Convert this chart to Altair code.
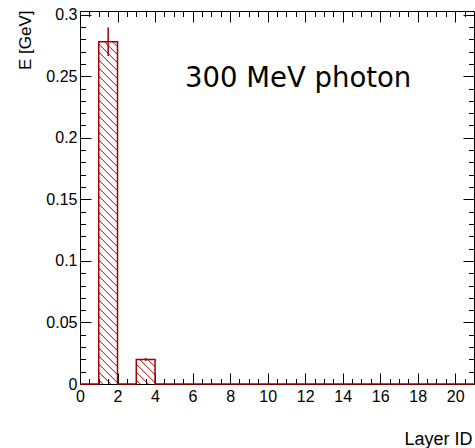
import altair as alt
import pandas as pd

# ---- data ----
bin_left = list(range(0, 21))                      # layer bins [i, i+1]
energy = [0, 0.278, 0, 0.020] + [0] * 17            # E [GeV]
energy_err = [0, 0.0115, 0, 0.0012] + [0] * 17
x_major = [0, 2, 4, 6, 8, 10, 12, 14, 16, 18, 20]
x_minor = [v / 2 for v in range(0, 42) if v % 4 != 0]
y_major = [0, 0.05, 0.1, 0.15, 0.2, 0.25, 0.3]
y_minor = [round(i * 0.01, 2) for i in range(0, 31) if i % 5 != 0]
label_text = ["300 MeV photon"]

RED = "#a00000"
W, H = 394, 373
XMAX, YMAX = 21, 0.303

xs = alt.Scale(domain=[0, XMAX], nice=False, zero=False)
ys = alt.Scale(domain=[0, YMAX], nice=False, zero=False)

df = pd.DataFrame({"x": bin_left, "e": energy, "err": energy_err})

# step outline points
step_df = pd.DataFrame({"x": bin_left + [XMAX], "e": energy + [0]})

# hatch segments derived from the bars (45 degrees on screen)
px_x, px_y = W / XMAX, H / YMAX
k = px_x / px_y
sp = 8 / px_y
rows = []
for x0, h in zip(bin_left, energy):
    if h <= 0:
        continue
    c = sp / 2
    while c < h + k:
        xa = x0 + max(0.0, (c - h) / k)
        xb = x0 + min(1.0, c / k)
        if xb > xa:
            rows.append({"x": xa, "x2": xb, "y": c - k * (xa - x0), "y2": c - k * (xb - x0)})
        c += sp
hatch_df = pd.DataFrame(rows)

err_df = df[df.e > 0].assign(xc=lambda d: d.x + 0.5, lo=lambda d: d.e - d.err, hi=lambda d: d.e + d.err)

FONT = "Liberation Sans"

def axis_layer(xaxis, yaxis):
    return alt.Chart(df).mark_point(opacity=0).encode(
        x=alt.X("x:Q", scale=xs, axis=xaxis),
        y=alt.Y("e:Q", scale=ys, axis=yaxis),
    )

common = dict(grid=False, domain=False, tickColor="black", tickWidth=1, title=None)

labels_layer = axis_layer(
    alt.Axis(orient="bottom", values=x_major, format="~g", ticks=False, domain=False, grid=False,
             labelFont=FONT, labelFontSize=16, labelColor="black", labelPadding=4, labelFlush=False,
             title="Layer ID", titleFont=FONT, titleFontSize=18, titleFontWeight="normal",
             titleColor="black", titleX=392, titleY=60, titleAlign="right",
             titleBaseline="alphabetic", titleAnchor="end"),
    alt.Axis(orient="left", values=y_major, format="~g", ticks=False, domain=False, grid=False,
             labelFont=FONT, labelFontSize=16, labelColor="black", labelPadding=3, labelFlush=False,
             title="E [GeV]", titleFont=FONT, titleFontSize=17, titleFontWeight="normal",
             titleColor="black", titleX=-55, titleY=-1, titleAngle=270, titleAlign="right",
             titleBaseline="middle", titleAnchor="end"),
)

def tick_layer(xo, yo, size):
    xv = x_major if size > 8 else x_minor
    yv = y_major if size > 8 else y_minor
    return axis_layer(
        alt.Axis(orient=xo, values=xv, labels=False, tickSize=size, offset=-size, **common),
        alt.Axis(orient=yo, values=yv, labels=False, tickSize=size, offset=-size, **common),
    )

hatch = alt.Chart(hatch_df).mark_rule(color=RED, strokeWidth=1).encode(
    x=alt.X("x:Q", scale=xs, axis=None), x2="x2:Q",
    y=alt.Y("y:Q", scale=ys, axis=None), y2="y2:Q",
)

outline = alt.Chart(step_df).mark_line(color=RED, strokeWidth=1.5, interpolate="step-after").encode(
    x=alt.X("x:Q", scale=xs, axis=None),
    y=alt.Y("e:Q", scale=ys, axis=None),
)

errs = alt.Chart(err_df).mark_rule(color=RED, strokeWidth=1.5).encode(
    x=alt.X("xc:Q", scale=xs, axis=None),
    y=alt.Y("lo:Q", scale=ys, axis=None), y2="hi:Q",
)

text = alt.Chart(pd.DataFrame({"t": label_text, "x": [5.6], "y": [0.2415]})).mark_text(
    font="DejaVu Sans", fontSize=27.5, align="left", baseline="alphabetic", color="black"
).encode(
    x=alt.X("x:Q", scale=xs, axis=None),
    y=alt.Y("y:Q", scale=ys, axis=None),
    text="t:N",
)

chart = alt.layer(
    hatch, outline, errs, text,
    labels_layer,
    tick_layer("bottom", "left", 11),
    tick_layer("bottom", "left", 5.5),
    tick_layer("top", "right", 11),
    tick_layer("top", "right", 5.5),
).resolve_axis(x="independent", y="independent").properties(
    width=W, height=H,
    autosize=alt.AutoSizeParams(type="none"),
    padding={"left": 80, "top": 11, "right": 1, "bottom": 64},
    background="white",
).configure_view(stroke="black", strokeWidth=1)

chart.save("out.html", embed_options={"renderer": "svg", "actions": False})
